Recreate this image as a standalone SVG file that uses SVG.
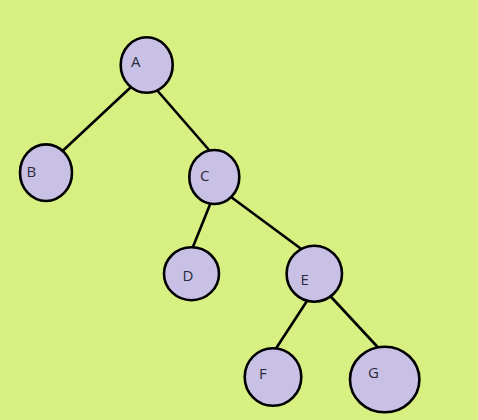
<svg xmlns="http://www.w3.org/2000/svg" width="478" height="420" viewBox="0 0 478 420">
<style>
.n ellipse{fill:#c8c1e5;stroke:#000;stroke-width:2.6}
.n text{font-family:"Open Sans","DejaVu Sans",sans-serif;font-size:15px;fill:#2a2a3a}
.e line{stroke:#000;stroke-width:2.6}
</style>
<rect width="478" height="420" fill="#d8f081"/>
<g class="e" id="edges">
<line x1="131" y1="87" x2="62.5" y2="151"/>
<line x1="157.3" y1="90.5" x2="209.5" y2="150.5"/>
<line x1="211" y1="202" x2="192.5" y2="248"/>
<line x1="231.7" y1="197.5" x2="302" y2="249.5"/>
<line x1="307.3" y1="300.5" x2="275.8" y2="348.8"/>
<line x1="330.7" y1="296.5" x2="378.5" y2="348"/>
</g>
<g class="n" id="A"><ellipse cx="146.7" cy="65" rx="26" ry="27.8"/><text x="131" y="67">A</text></g>
<g class="n" id="B"><ellipse cx="46" cy="172.7" rx="26" ry="28.3"/><text x="26.5" y="177">B</text></g>
<g class="n" id="C"><ellipse cx="214.3" cy="177" rx="25" ry="27"/><text x="200" y="181">C</text></g>
<g class="n" id="D"><ellipse cx="191.5" cy="273.7" rx="27.5" ry="26.5"/><text x="182.5" y="281">D</text></g>
<g class="n" id="E"><ellipse cx="314.3" cy="273.7" rx="27.7" ry="28"/><text x="300.5" y="285">E</text></g>
<g class="n" id="F"><ellipse cx="273" cy="377" rx="28.3" ry="28.8"/><text x="259" y="379">F</text></g>
<g class="n" id="G"><ellipse cx="384.7" cy="379.5" rx="34.7" ry="32.8"/><text x="368" y="378">G</text></g>
</svg>
